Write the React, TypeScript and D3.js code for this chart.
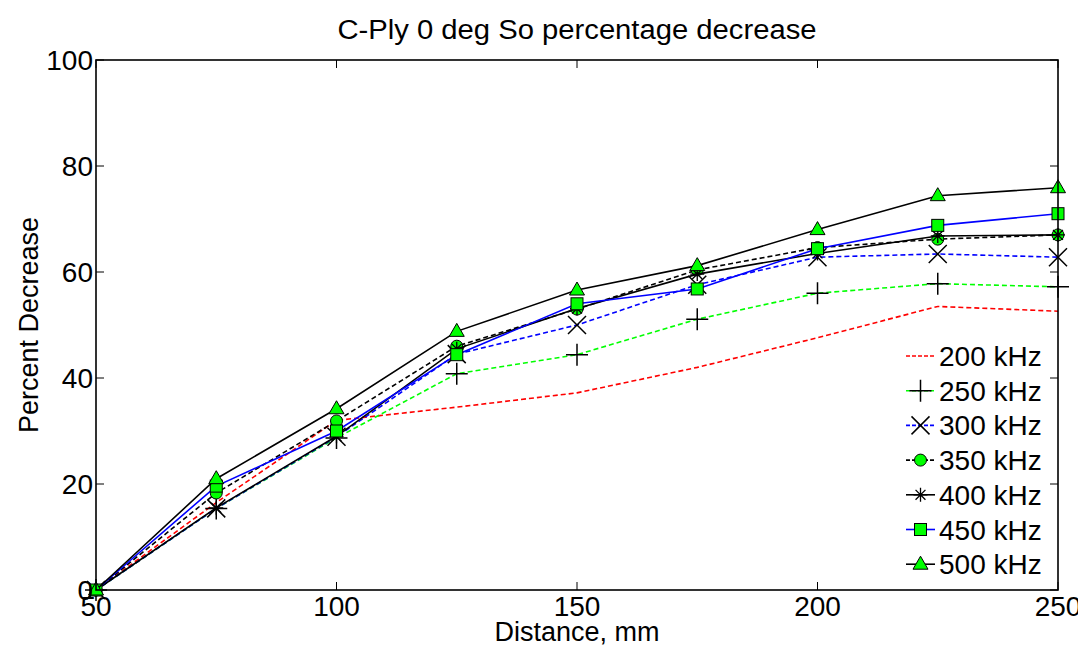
import { useEffect, useRef } from "react";
import * as d3 from "d3";

const distances = [50, 75, 100, 125, 150, 175, 200, 225, 250];
const freqLabels = ["200 kHz", "250 kHz", "300 kHz", "350 kHz", "400 kHz", "450 kHz", "500 kHz"];

const s200 = [0, 16.5, 32, 34.5, 37.2, 42, 47.6, 53.5, 52.6];
const s250 = [0, 15.4, 28.7, 40.8, 44.4, 51.1, 56, 57.8, 57.2];
const s300 = [0, 15.4, 28.9, 44.5, 50, 57.6, 62.8, 63.4, 62.8];
const s350 = [0, 18.3, 31.9, 46, 53, 60.4, 64.6, 66.2, 67];
const s400 = [0, 15.5, 29, 45.5, 53.1, 59.6, 63.5, 66.8, 67];
const s450 = [0, 19.6, 30, 44.4, 54, 56.8, 64.4, 68.8, 71];
const s500 = [0, 21, 34.2, 48.8, 56.6, 61.2, 68, 74.4, 75.9];

const xTicks = [50, 100, 150, 200, 250];
const yTicks = [0, 20, 40, 60, 80, 100];

type Marker = "none" | "plus" | "x" | "circle" | "star" | "square" | "triangle";
const series: { label: string; values: number[]; color: string; dash: boolean; marker: Marker }[] = [
  { label: freqLabels[0], values: s200, color: "#ff0000", dash: true, marker: "none" },
  { label: freqLabels[1], values: s250, color: "#00ff00", dash: true, marker: "plus" },
  { label: freqLabels[2], values: s300, color: "#0000ff", dash: true, marker: "x" },
  { label: freqLabels[3], values: s350, color: "#000000", dash: true, marker: "circle" },
  { label: freqLabels[4], values: s400, color: "#000000", dash: false, marker: "star" },
  { label: freqLabels[5], values: s450, color: "#0000ff", dash: false, marker: "square" },
  { label: freqLabels[6], values: s500, color: "#000000", dash: false, marker: "triangle" },
];

const FONT = "'Liberation Sans', Arial, sans-serif";

function drawMarker(g: any, kind: Marker, cx: number, cy: number) {
  if (kind === "plus") {
    const r = 11;
    g.append("path").attr("d", `M${cx - r},${cy}H${cx + r}M${cx},${cy - r}V${cy + r}`)
      .attr("stroke", "#000").attr("stroke-width", 1.5).attr("fill", "none");
  } else if (kind === "x") {
    const r = 9;
    g.append("path").attr("d", `M${cx - r},${cy - r}L${cx + r},${cy + r}M${cx - r},${cy + r}L${cx + r},${cy - r}`)
      .attr("stroke", "#000").attr("stroke-width", 1.5).attr("fill", "none");
  } else if (kind === "star") {
    const r = 7;
    const d = r * 0.7071;
    g.append("path").attr("d",
      `M${cx - r},${cy}H${cx + r}M${cx},${cy - r}V${cy + r}M${cx - d},${cy - d}L${cx + d},${cy + d}M${cx - d},${cy + d}L${cx + d},${cy - d}`)
      .attr("stroke", "#000").attr("stroke-width", 1.3).attr("fill", "none");
  } else if (kind === "circle") {
    g.append("circle").attr("cx", cx).attr("cy", cy).attr("r", 6)
      .attr("fill", "#00ff00").attr("stroke", "#000").attr("stroke-width", 1);
  } else if (kind === "square") {
    g.append("rect").attr("x", cx - 6).attr("y", cy - 6).attr("width", 12).attr("height", 12)
      .attr("fill", "#00ff00").attr("stroke", "#000").attr("stroke-width", 1);
  } else if (kind === "triangle") {
    g.append("path").attr("d", `M${cx},${cy - 8}L${cx + 7.5},${cy + 5}L${cx - 7.5},${cy + 5}Z`)
      .attr("fill", "#00ff00").attr("stroke", "#000").attr("stroke-width", 1);
  }
}

export default function App() {
  const ref = useRef<SVGSVGElement | null>(null);

  useEffect(() => {
    const W = 1086, H = 661;
    const left = 96, right = 1058, top = 60, bottom = 590;
    const svg = d3.select(ref.current);
    svg.selectAll("*").remove();
    svg.attr("width", W).attr("height", H).attr("viewBox", `0 0 ${W} ${H}`);
    svg.append("rect").attr("width", W).attr("height", H).attr("fill", "#fff");

    const x = d3.scaleLinear().domain([50, 250]).range([left, right]);
    const y = d3.scaleLinear().domain([0, 100]).range([bottom, top]);

    // ticks (inward, all four sides)
    const tk = 8;
    const ax = svg.append("g").attr("stroke", "#000").attr("stroke-width", 1);
    xTicks.forEach((t) => {
      ax.append("line").attr("x1", x(t)).attr("x2", x(t)).attr("y1", bottom).attr("y2", bottom - tk);
      ax.append("line").attr("x1", x(t)).attr("x2", x(t)).attr("y1", top).attr("y2", top + tk);
    });
    yTicks.forEach((t) => {
      ax.append("line").attr("x1", left).attr("x2", left + tk).attr("y1", y(t)).attr("y2", y(t));
      ax.append("line").attr("x1", right).attr("x2", right - tk).attr("y1", y(t)).attr("y2", y(t));
    });

    // lines
    const line = d3.line<number>().x((_, i) => x(distances[i])).y((v) => y(v));
    series.forEach((s) => {
      svg.append("path").attr("d", line(s.values))
        .attr("fill", "none").attr("stroke", s.color).attr("stroke-width", 1.6)
        .attr("stroke-dasharray", s.dash ? "5,3" : null);
      const mg = svg.append("g");
      s.values.forEach((v, i) => drawMarker(mg, s.marker, x(distances[i]), y(v)));
    });

    // box
    svg.append("rect").attr("x", left).attr("y", top).attr("width", right - left).attr("height", bottom - top)
      .attr("fill", "none").attr("stroke", "#000").attr("stroke-width", 1.6);

    // tick labels
    const tl = svg.append("g").attr("font-family", FONT).attr("font-size", 28).attr("fill", "#000");
    xTicks.forEach((t) => {
      tl.append("text").attr("x", x(t)).attr("y", 616).attr("text-anchor", "middle").text(t);
    });
    yTicks.forEach((t) => {
      tl.append("text").attr("x", 93).attr("y", y(t) + 10).attr("text-anchor", "end").text(t);
    });

    // axis labels and title
    svg.append("text").attr("x", 577).attr("y", 641).attr("text-anchor", "middle")
      .attr("font-family", FONT).attr("font-size", 27).text("Distance, mm");
    svg.append("text").attr("transform", "translate(38,325) rotate(-90)").attr("text-anchor", "middle")
      .attr("font-family", FONT).attr("font-size", 27).text("Percent Decrease");
    svg.append("text").attr("x", 577).attr("y", 39).attr("text-anchor", "middle")
      .attr("font-family", FONT).attr("font-size", 27)
      .attr("textLength", 479).attr("lengthAdjust", "spacingAndGlyphs")
      .text("C-Ply 0 deg So percentage decrease");

    // legend
    const lg = svg.append("g");
    series.forEach((s, i) => {
      const cy = 356 + i * 34.7;
      lg.append("line").attr("x1", 906).attr("x2", 935).attr("y1", cy).attr("y2", cy)
        .attr("stroke", s.color).attr("stroke-width", 1.6).attr("stroke-dasharray", s.dash ? "4,2" : null);
      drawMarker(lg, s.marker, 920.5, cy);
      lg.append("text").attr("x", 939).attr("y", cy + 10).attr("font-family", FONT).attr("font-size", 28)
        .text(s.label);
    });
  }, []);

  return <svg ref={ref} style={{ display: "block", margin: "-8px" }} />;
}
